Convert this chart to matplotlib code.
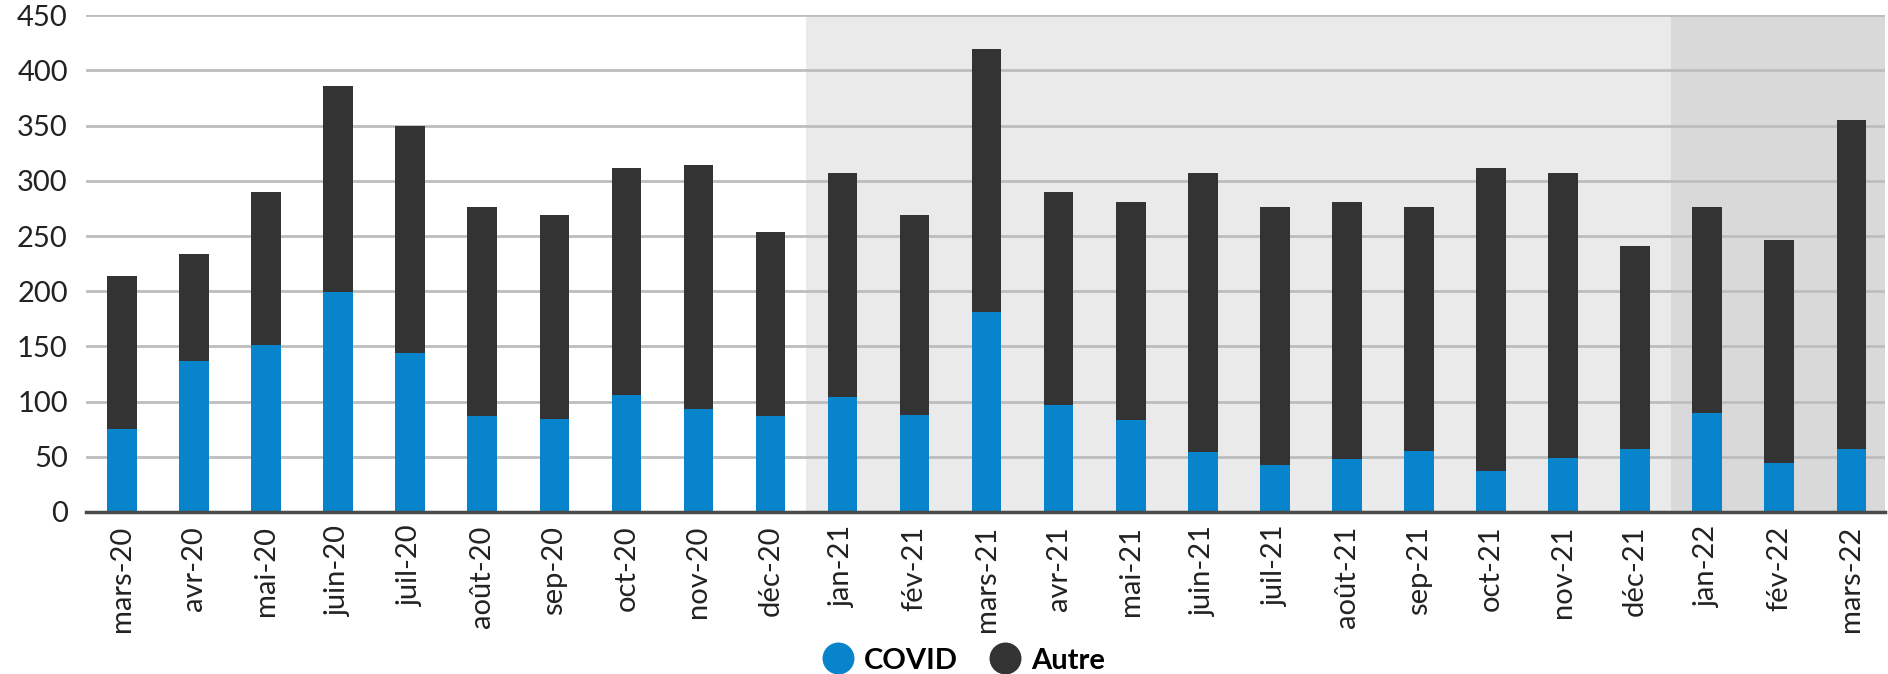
import matplotlib
matplotlib.use("Agg")
import matplotlib.pyplot as plt
from matplotlib.lines import Line2D
import numpy as np

months = ["mars-20", "avr-20", "mai-20", "juin-20", "juil-20", "août-20", "sep-20",
          "oct-20", "nov-20", "déc-20", "jan-21", "fév-21", "mars-21", "avr-21",
          "mai-21", "juin-21", "juil-21", "août-21", "sep-21", "oct-21", "nov-21",
          "déc-21", "jan-22", "fév-22", "mars-22"]
totals = [214, 234, 290, 386, 350, 276, 269, 312, 314, 254, 307, 269, 419, 290,
          281, 307, 276, 281, 276, 312, 307, 241, 276, 246, 355]
covid = [75, 137, 151, 199, 144, 87, 84, 106, 93, 87, 104, 88, 181, 97,
         83, 54, 43, 48, 55, 37, 49, 57, 90, 44, 57]
autre = [t - c for t, c in zip(totals, covid)]
yticks = [0, 50, 100, 150, 200, 250, 300, 350, 400, 450]

BLUE = "#0784CB"
DARK = "#333333"

plt.rcParams['font.family'] = ['Lato', 'DejaVu Sans']

fig = plt.figure(figsize=(18.88, 6.74), dpi=100)
ax = fig.add_axes([0.0455, 0.2404, 0.953, 0.737])

x = np.arange(len(months))
ax.axvspan(9.5, 21.5, color="#EAEAEA", zorder=0, lw=0)
ax.axvspan(21.5, 24.5, color="#D9D9D9", zorder=0, lw=0)

ax.bar(x, covid, width=0.41, color=BLUE, zorder=3, label="COVID")
ax.bar(x, autre, bottom=covid, width=0.41, color=DARK, zorder=3, label="Autre")

ax.set_xlim(-0.5, 24.47)
ax.set_ylim(0, 450)
ax.set_yticks(yticks)
ax.set_yticklabels([str(v) for v in yticks])
ax.yaxis.grid(True, color="#BDBDBD", lw=2, zorder=1)
ax.set_axisbelow(False)
ax.set_xticks(x)
ax.set_xticklabels(months, rotation=90)

for s in ["top", "right", "left"]:
    ax.spines[s].set_visible(False)
ax.spines["bottom"].set_color("#4a4a4a")
ax.spines["bottom"].set_linewidth(2.5)
ax.spines["bottom"].set_zorder(5)
ax.tick_params(axis="both", length=0, labelsize=21, colors="#222222")
ax.tick_params(axis="y", pad=13)
ax.tick_params(axis="x", pad=10)

handles = [Line2D([0], [0], marker="o", color="w", markerfacecolor=BLUE, markersize=24, lw=0),
           Line2D([0], [0], marker="o", color="w", markerfacecolor=DARK, markersize=24, lw=0)]
fig.legend(handles, ["COVID", "Autre"], loc="center", bbox_to_anchor=(0.51, 0.02),
           ncol=2, frameon=False, prop={"size": 21, "weight": "bold"},
           handletextpad=0.3, columnspacing=1.0, handlelength=1.2)

fig.savefig("out.png", dpi=100)
